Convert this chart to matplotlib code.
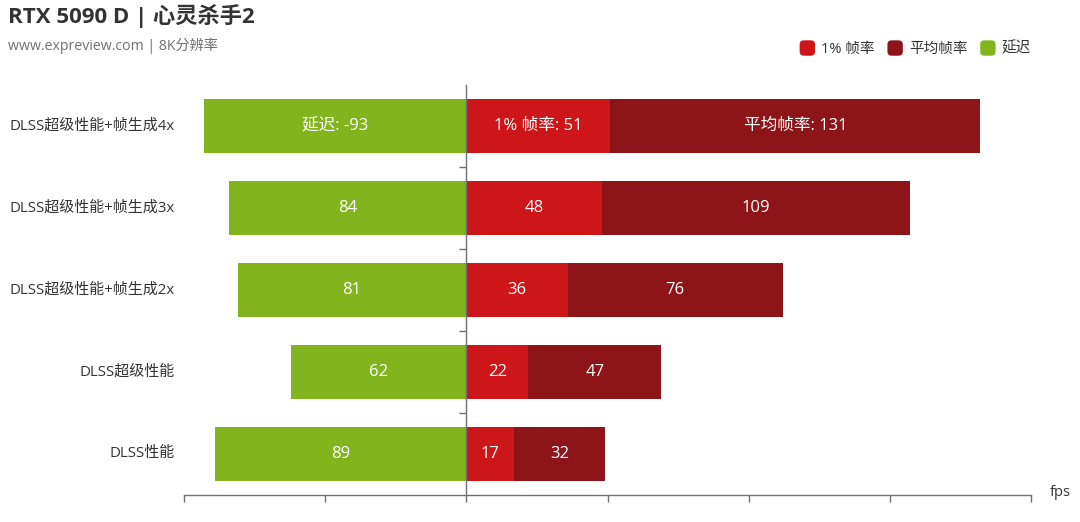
import matplotlib
matplotlib.use("Agg")
import matplotlib.pyplot as plt
import numpy as np
from matplotlib.patches import Patch, FancyBboxPatch
from matplotlib.legend_handler import HandlerPatch

plt.rcParams['font.family'] = ['Open Sans', 'Noto Sans CJK SC', 'DejaVu Sans']

categories = ['DLSS超级性能+帧生成4x', 'DLSS超级性能+帧生成3x', 'DLSS超级性能+帧生成2x',
              'DLSS超级性能', 'DLSS性能']
latency = [-93, -84, -81, -62, -89]
fps_low1 = [51, 48, 36, 22, 17]
fps_avg = [131, 109, 76, 47, 32]
series_names = ['1% 帧率', '平均帧率', '延迟']
x_ticks = [-100, -50, 0, 50, 100, 150, 200]

c_low = '#CD1619'
c_avg = '#8D1519'
c_lat = '#82B41D'
axis_c = '#6E7079'
text_c = '#333333'

fig = plt.figure(figsize=(10.8, 5.22), dpi=100)
ax = fig.add_axes([184/1080, 27/522, 847/1080, 410/522])

y = np.arange(len(categories))
h = 0.66
b_lat = ax.barh(y, latency, height=h, color=c_lat, zorder=2)
b_low = ax.barh(y, fps_low1, height=h, color=c_low, zorder=2)
b_avg = ax.barh(y, fps_avg, height=h, left=fps_low1, color=c_avg, zorder=2)

lab_lat = [f'{series_names[2]}: {v}' if i == 0 else f'{abs(v)}' for i, v in enumerate(latency)]
lab_low = [f'{series_names[0]}: {v}' if i == 0 else f'{v}' for i, v in enumerate(fps_low1)]
lab_avg = [f'{series_names[1]}: {v}' if i == 0 else f'{v}' for i, v in enumerate(fps_avg)]
for bars, labs in [(b_lat, lab_lat), (b_low, lab_low), (b_avg, lab_avg)]:
    ax.bar_label(bars, labels=labs, label_type='center', color='white', fontsize=12)

ax.set_xlim(x_ticks[0], x_ticks[-1])
ax.set_ylim(len(categories) - 0.5, -0.5)

for s in ['top', 'right']:
    ax.spines[s].set_visible(False)
ax.spines['left'].set_position(('data', 0))
for s in ['left', 'bottom']:
    ax.spines[s].set_color(axis_c)
    ax.spines[s].set_linewidth(1.0)

ax.set_xticks(x_ticks)
ax.set_xticklabels([])
ax.set_yticks(np.arange(len(categories) - 1) + 0.5)
ax.set_yticklabels([])
ax.tick_params(axis='both', length=5, color=axis_c, width=1.0, direction='out')

for i, c in enumerate(categories):
    ax.annotate(c, xy=(0, i), xycoords=('axes fraction', 'data'), xytext=(-7, 0),
                textcoords='offset points', ha='right', va='center', fontsize=10.8, color=text_c)

ax.annotate('fps', xy=(1, 0), xycoords='axes fraction', xytext=(13.5, 2),
            textcoords='offset points', ha='left', va='center', fontsize=10.5, color=text_c)

fig.text(8/1080, 1 - 16/522, 'RTX 5090 D | 心灵杀手2', fontsize=16, fontweight='bold',
         color=text_c, ha='left', va='center')
fig.text(8/1080, 1 - 46/522, 'www.expreview.com | 8K分辨率', fontsize=10.2,
         color='#707070', ha='left', va='center')


def round_sq(legend, orig_handle, xdescent, ydescent, width, height, fontsize):
    s = height
    return FancyBboxPatch((-xdescent + (width - s) / 2, -ydescent), s, s,
                          boxstyle=f"round,pad=0,rounding_size={s*0.25}")


handles = [Patch(color=c_low, label=series_names[0]),
           Patch(color=c_avg, label=series_names[1]),
           Patch(color=c_lat, label=series_names[2])]
fig.legend(handles=handles, loc='center right', bbox_to_anchor=(1031/1080, 1 - 49/522),
           ncol=3, frameon=False, fontsize=10.5, handlelength=1.1, handleheight=1.1,
           handletextpad=0.4, columnspacing=0.85, borderpad=0, borderaxespad=0,
           handler_map={Patch: HandlerPatch(patch_func=round_sq)}, labelcolor=text_c)

fig.savefig('out.png', dpi=100)
